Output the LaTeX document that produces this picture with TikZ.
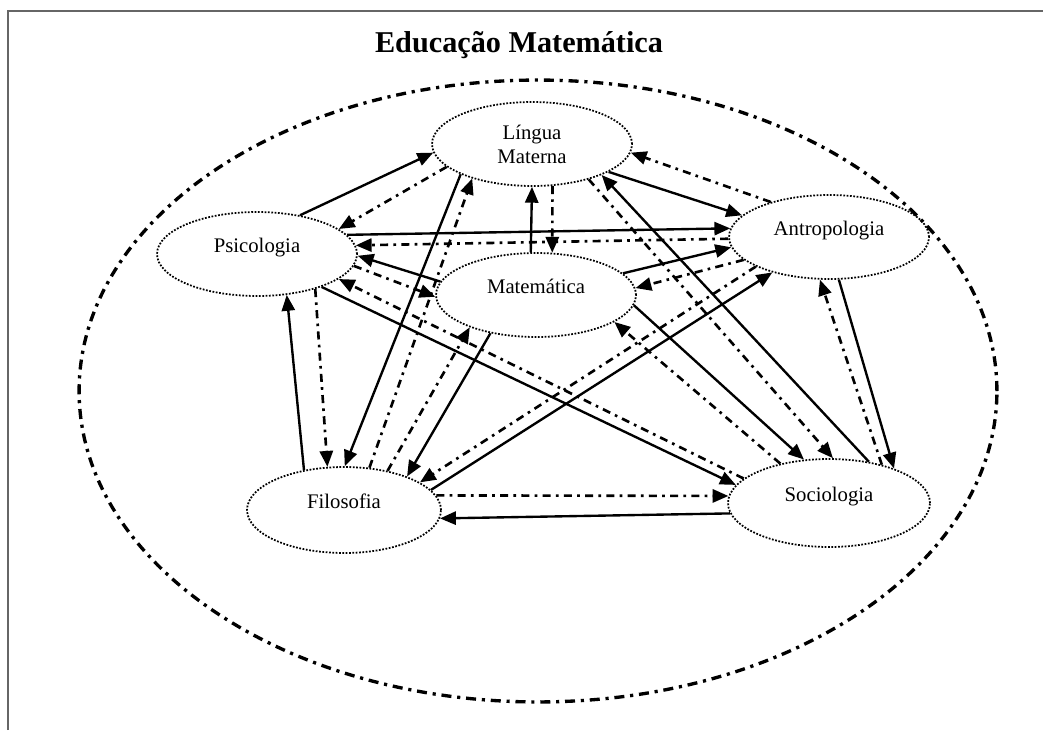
\documentclass[tikz,border=0pt]{standalone}
\usepackage{fontspec}
\setmainfont{Liberation Serif}
\usetikzlibrary{shapes.geometric,arrows.meta}

\begin{document}
\begin{tikzpicture}[x=0.02cm, y=-0.02cm,
    area/.style={ellipse, draw, line width=1pt, dash pattern=on 1pt off 0.9pt,
        minimum width=4cm, minimum height=1.68cm, align=center,
        font=\fontsize{11.8}{13.6}\selectfont},
    raised/.style={text depth=10pt},
    solidarr/.style={line width=1.35pt, -{Triangle[length=9pt,width=7.5pt]}},
    dasharr/.style={line width=1.5pt, dash pattern=on 4.6pt off 3pt on 1.5pt off 3pt,
        -{Triangle[length=9pt,width=7.5pt]}}]
                \useasboundingbox (0,0) rectangle (1043,730);
                % Frame
                \draw[gray!80!black, line width=1.2pt] (8,730) -- (8,11) -- (1043,11);
                % Outer field
                \draw[line width=1.9pt, dash pattern=on 5.7pt off 3.3pt on 1.8pt off 3.3pt]
                    (538,391) ellipse [x radius=9.18cm, y radius=6.22cm];
                \node[font=\bfseries\fontsize{17.2}{20}\selectfont] (title) at (519,45) {Educação Matemática};

                % Areas
                \node[area] (L) at (532,144) {Língua\\Materna};
                \node[area, raised] (P) at (257,254) {Psicologia};
                \node[area, raised] (M) at (536,295) {Matemática};
                \node[area, raised] (A) at (829,237) {Antropologia};
                \node[area, raised, minimum width=3.88cm, minimum height=1.72cm] (F) at (344,510) {Filosofia};
                \node[area, raised, minimum width=4.04cm, minimum height=1.76cm] (S) at (829,503) {Sociologia};

                % Solid links
                \foreach \a/\b in {P.42/L.185, L.340/A.166, M.97/L.270, L.203/F.89, S.46/L.336,
                        P.12/A.175, M.172/P.359, P.333/S.169, F.135/P.306, M.14/A.186,
                        M.354/S.120, M.220/F.28, F.13/A.212, A.283/S.28, S.186/F.355} {
                    \draw[solidarr] (\a) -- (\b);
                }
                % Dash-dot links
                \foreach \a/\b in {L.195/P.17, A.149/L.355, L.296/M.69, F.59/L.210, L.328/S.85,
                        A.181/P.5, P.353/M.181, S.164/P.343, P.329/F.111, A.195/M.4,
                        S.141/M.341, F.42/M.206, A.202/F.20, S.36/A.258, F.9/S.176} {
                    \draw[dasharr] (\a) -- (\b);
                }
\end{tikzpicture}
\end{document}
